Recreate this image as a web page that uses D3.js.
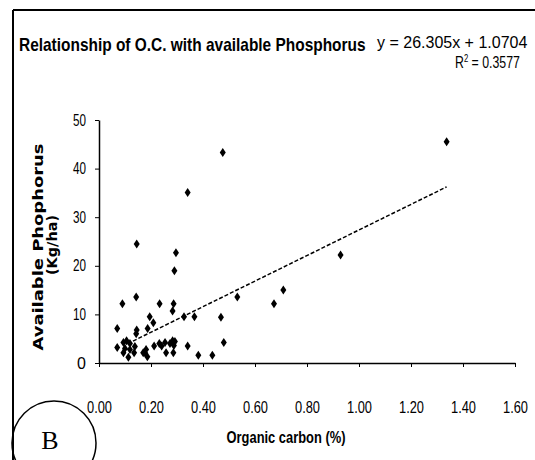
<!DOCTYPE html>
<html>
<head>
<meta charset="utf-8">
<script src="https://cdn.jsdelivr.net/npm/d3@7"></script>
<style>
  html, body { margin: 0; padding: 0; background: #fff; }
  svg { display: block; }
</style>
</head>
<body>
<svg id="chart" width="535" height="460"></svg>
<script>
// ---- data ----
const organicCarbon = [
  0.476, 1.337, 0.341, 0.296, 0.290, 0.145, 0.929, 0.143, 0.532, 0.709,
  0.673, 0.090, 0.233, 0.287, 0.283, 0.195, 0.209, 0.327, 0.367, 0.469,
  0.070, 0.145, 0.143, 0.187, 0.480, 0.341, 0.382, 0.436,
  0.070, 0.094, 0.094, 0.106, 0.113, 0.119, 0.119, 0.135, 0.138, 0.170,
  0.181, 0.186, 0.212, 0.232, 0.241, 0.254, 0.258, 0.273, 0.283, 0.292,
  0.286, 0.100, 0.178, 0.288
];
const availableP = [
  43.3, 45.5, 35.1, 22.7, 19.0, 24.5, 22.2, 13.6, 13.6, 15.0,
  12.2, 12.2, 12.2, 12.2, 10.7, 9.5, 8.3, 9.5, 9.5, 9.4,
  7.1, 6.8, 6.0, 7.1, 4.2, 3.5, 1.6, 1.6,
  3.2, 4.2, 2.1, 4.6, 1.2, 4.0, 2.8, 2.1, 3.4, 2.1,
  2.8, 1.3, 3.5, 4.0, 3.5, 4.2, 2.1, 4.0, 4.6, 4.4,
  2.1, 3.0, 2.0, 3.6
];
const xTicks = [0, 0.2, 0.4, 0.6, 0.8, 1.0, 1.2, 1.4, 1.6];
const yTicks = [0, 10, 20, 30, 40, 50];
const slope = 26.305;
const intercept = 1.0704;
const trendX = [0.11, 1.337];
const titleText = "Relationship of O.C. with available Phosphorus";
const eqText = "y = 26.305x + 1.0704";
const r2Value = "0.3577";
const xLabel = "Organic carbon (%)";
const yLabel1 = "Available Phophorus";
const yLabel2 = "(Kg/ha)";
const panelLetter = "B";

// ---- layout ----
const svg = d3.select("#chart");
const sans = "'Liberation Sans', Arial, sans-serif";

// place a text at (x,y) and squeeze it horizontally to a target width
function fitText(sel, px, py, target) {
  const w = sel.node().getComputedTextLength();
  const k = Math.min(1, target / w);
  sel.attr("transform", `translate(${px},${py}) scale(${k},1)`);
  return sel;
}

const x = d3.scaleLinear().domain([0, 1.6]).range([99, 515]);
const y = d3.scaleLinear().domain([0, 50]).range([363, 120]);

// frame
svg.append("line").attr("x1", 13).attr("x2", 535).attr("y1", 10).attr("y2", 10)
  .attr("stroke", "#000").attr("stroke-width", 2);
svg.append("line").attr("x1", 13).attr("x2", 13).attr("y1", 10).attr("y2", 460)
  .attr("stroke", "#000").attr("stroke-width", 2);

// title
fitText(svg.append("text")
  .attr("font-family", sans).attr("font-weight", "bold").attr("font-size", 19)
  .text(titleText), 19, 51, 347);

// equation
fitText(svg.append("text")
  .attr("font-family", sans).attr("font-size", 16)
  .text(eqText), 377, 48, 157);
const r2 = svg.append("text")
  .attr("font-family", sans).attr("font-size", 16);
r2.append("tspan").text("R");
r2.append("tspan").attr("dy", -6).attr("font-size", 10).text("2");
r2.append("tspan").attr("dy", 6).text(" = " + r2Value);
fitText(r2, 455, 68, 65);

// axes
const xAxis = d3.axisBottom(x).tickValues(xTicks).tickFormat(d3.format(".2f"))
  .tickSize(4).tickSizeOuter(0).tickPadding(35);
const gx = svg.append("g").attr("transform", "translate(0,363)").call(xAxis);
gx.selectAll("text").attr("font-family", sans).attr("font-size", 16).attr("fill", "#000")
  .attr("textLength", 25).attr("lengthAdjust", "spacingAndGlyphs");
gx.select(".domain").attr("stroke-width", 1.5);

const yAxis = d3.axisLeft(y).tickValues(yTicks).tickFormat(d3.format("d"))
  .tickSize(4).tickSizeOuter(0).tickPadding(9);
const gy = svg.append("g").attr("transform", "translate(99,0)").call(yAxis);
gy.selectAll("text").attr("font-family", sans).attr("font-size", 16).attr("fill", "#000")
  .each(function(d) { if (d >= 10) d3.select(this).attr("textLength", 13).attr("lengthAdjust", "spacingAndGlyphs"); });
gy.select(".domain").attr("stroke-width", 1.5);

// axis titles
const xl = svg.append("text").attr("text-anchor", "middle")
  .attr("font-family", sans).attr("font-weight", "bold").attr("font-size", 16)
  .text(xLabel);
fitText(xl, 286, 443, 119);

svg.append("text")
  .attr("transform", "translate(43,247) rotate(-90)")
  .attr("text-anchor", "middle")
  .attr("font-family", "'DejaVu Sans', sans-serif").attr("font-weight", "bold").attr("font-size", 14)
  .attr("textLength", 207).attr("lengthAdjust", "spacingAndGlyphs")
  .text(yLabel1);
svg.append("text")
  .attr("transform", "translate(57,245) rotate(-90)")
  .attr("text-anchor", "middle")
  .attr("font-family", "'DejaVu Sans', sans-serif").attr("font-weight", "bold").attr("font-size", 14)
  .attr("textLength", 60).attr("lengthAdjust", "spacingAndGlyphs")
  .text(yLabel2);

// trend line
const line = d3.line().x(d => x(d)).y(d => y(slope * d + intercept));
svg.append("path").datum(trendX).attr("d", line)
  .attr("fill", "none").attr("stroke", "#000").attr("stroke-width", 1.5)
  .attr("stroke-dasharray", "4,2");

// points (vertical diamonds)
const pts = organicCarbon.map((v, i) => [v, availableP[i]]);
svg.append("g").selectAll("path").data(pts).join("path")
  .attr("transform", d => `translate(${x(d[0])},${y(d[1])})`)
  .attr("d", "M0,-4.5 L3,0 L0,4.5 L-3,0 Z")
  .attr("fill", "#000");

// panel letter
svg.append("circle").attr("cx", 54).attr("cy", 443).attr("r", 42)
  .attr("fill", "none").attr("stroke", "#000").attr("stroke-width", 1.5);
svg.append("text").attr("x", 50).attr("y", 449).attr("text-anchor", "middle")
  .attr("font-family", "'Liberation Serif', 'Times New Roman', serif").attr("font-size", 26)
  .text(panelLetter);
</script>
</body>
</html>
